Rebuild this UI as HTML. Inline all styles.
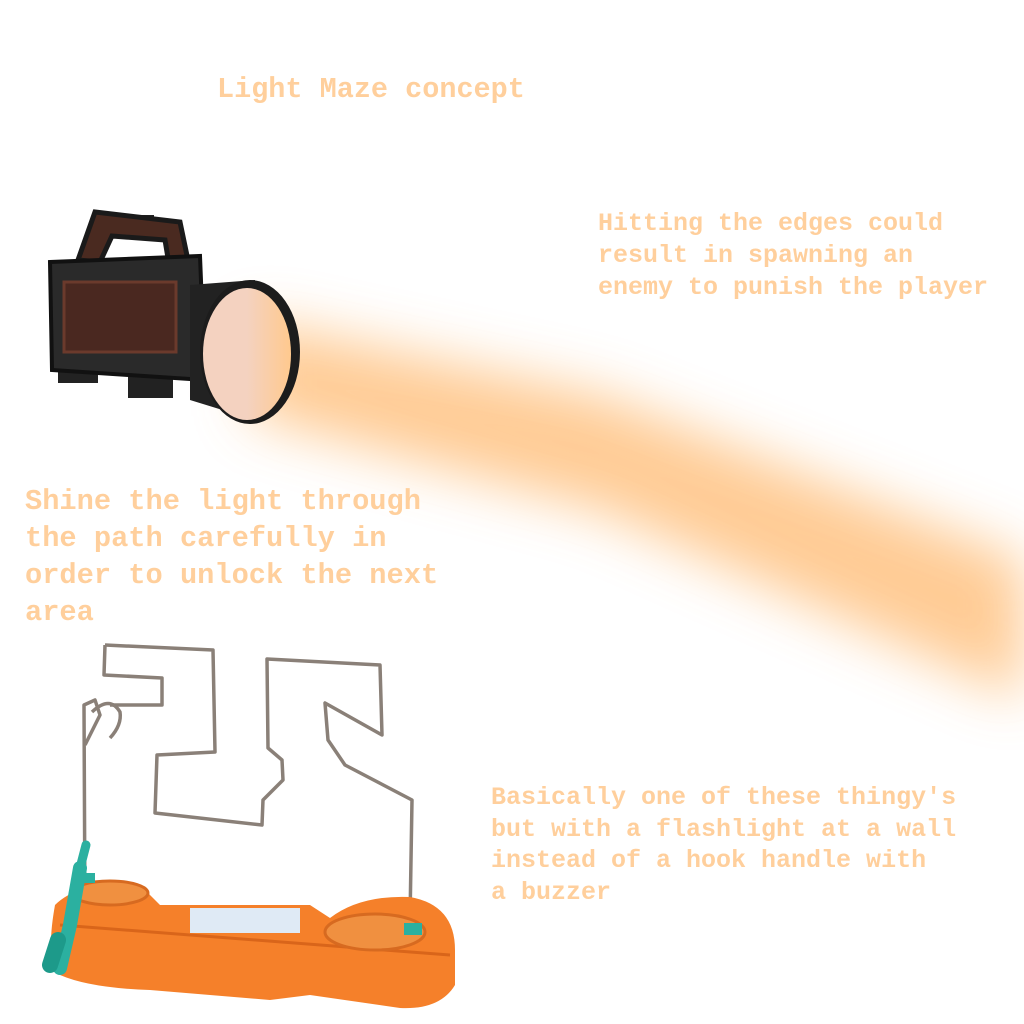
<!DOCTYPE html>
<html><head><style>
html,body{margin:0;padding:0;background:#fff;width:1024px;height:1024px;overflow:hidden;position:relative}
.t{position:absolute;font-family:"Liberation Mono",monospace;font-weight:bold;color:#ffcf9c;white-space:pre;margin:0}
</style></head><body>
<svg width="1024" height="1024" style="position:absolute;left:0;top:0">
<defs>
<filter id="b" x="-30%" y="-30%" width="160%" height="160%"><feGaussianBlur stdDeviation="28"/></filter>
<linearGradient id="lens" x1="0" x2="1"><stop offset="0.5" stop-color="#f4d2c0"/><stop offset="1" stop-color="#ffc98e"/></linearGradient>
</defs>
<polygon points="250,320 600,395 1024,560 1024,700 600,510 250,415" fill="#ffc282" filter="url(#b)" opacity="0.85"/>
<!-- flashlight -->
<rect x="140" y="215" width="14" height="14" fill="#222"/>
<path d="M78,260 L95,212 L180,222 L190,270 L170,270 L165,240 L112,236 L100,262 Z" fill="#4a2a20" stroke="#1a1a1a" stroke-width="5"/>
<rect x="58" y="348" width="40" height="35" fill="#222"/>
<rect x="128" y="360" width="45" height="38" fill="#222"/>
<path d="M50,262 L200,256 L205,380 L52,370 Z" fill="#2a2a2a" stroke="#111" stroke-width="4"/>
<rect x="64" y="282" width="112" height="70" fill="#4a2820" stroke="#6b3a2c" stroke-width="3"/>
<path d="M190,285 L255,280 L255,420 L190,400 Z" fill="#222"/>
<ellipse cx="250" cy="352" rx="50" ry="72" fill="#1c1c1c"/>
<ellipse cx="247" cy="354" rx="44" ry="66" fill="url(#lens)"/>
<!-- maze wire -->
<g fill="none" stroke="#8a8078" stroke-width="3.5" stroke-linejoin="round">
<path d="M105,645 L104,675 L162,678 L162,705 L110,705"/>
<path d="M105,645 L213,650 L215,752 L157,755 L155,813 L262,825 L263,800 L283,780 L282,760 L268,748 L267,659 L380,665 L382,735 L325,703 L328,740 L345,765 L412,800 L410,920"/>
<path d="M85,920 L84,705 L95,700 L100,715 L85,745"/>
<path d="M92,712 Q110,695 120,712 Q122,725 110,738"/>
</g>
<!-- base -->
<path d="M55,905 Q80,880 140,885 L160,905 L310,905 L330,918 Q360,895 410,897 Q455,905 455,950 L455,985 Q440,1010 400,1008 L310,995 L270,1000 L150,990 Q90,988 60,975 Q45,960 55,905 Z" fill="#f5802a"/>
<path d="M60,925 L450,955" stroke="#d9651a" stroke-width="3"/>
<ellipse cx="110" cy="893" rx="38" ry="12" fill="#f09040" stroke="#d76a20" stroke-width="3"/>
<ellipse cx="375" cy="932" rx="50" ry="18" fill="#f09040" stroke="#d76a20" stroke-width="3"/>
<rect x="190" y="908" width="110" height="25" fill="#dfeaf5"/>
<path d="M80,868 L70,925 L60,968" stroke="#2bb0a0" stroke-width="14" stroke-linecap="round"/>
<path d="M86,845 L80,868" stroke="#2bb0a0" stroke-width="9" stroke-linecap="round"/>
<path d="M58,940 L50,965" stroke="#1d9a8a" stroke-width="16" stroke-linecap="round"/>
<rect x="77" y="873" width="18" height="10" fill="#2bb0a0"/>
<rect x="404" y="923" width="18" height="12" fill="#2bb0a0"/>
</svg>
<div class="t" style="left:217px;top:73px;font-size:28.5px;line-height:34px">Light Maze concept</div>
<div class="t" style="left:598px;top:208px;font-size:25px;line-height:32px">Hitting the edges could
result in spawning an
enemy to punish the player</div>
<div class="t" style="left:25px;top:483px;font-size:28.7px;line-height:37px">Shine the light through
the path carefully in
order to unlock the next
area</div>
<div class="t" style="left:491px;top:782px;font-size:25px;line-height:31.5px">Basically one of these thingy's
but with a flashlight at a wall
instead of a hook handle with
a buzzer</div>
</body></html>
